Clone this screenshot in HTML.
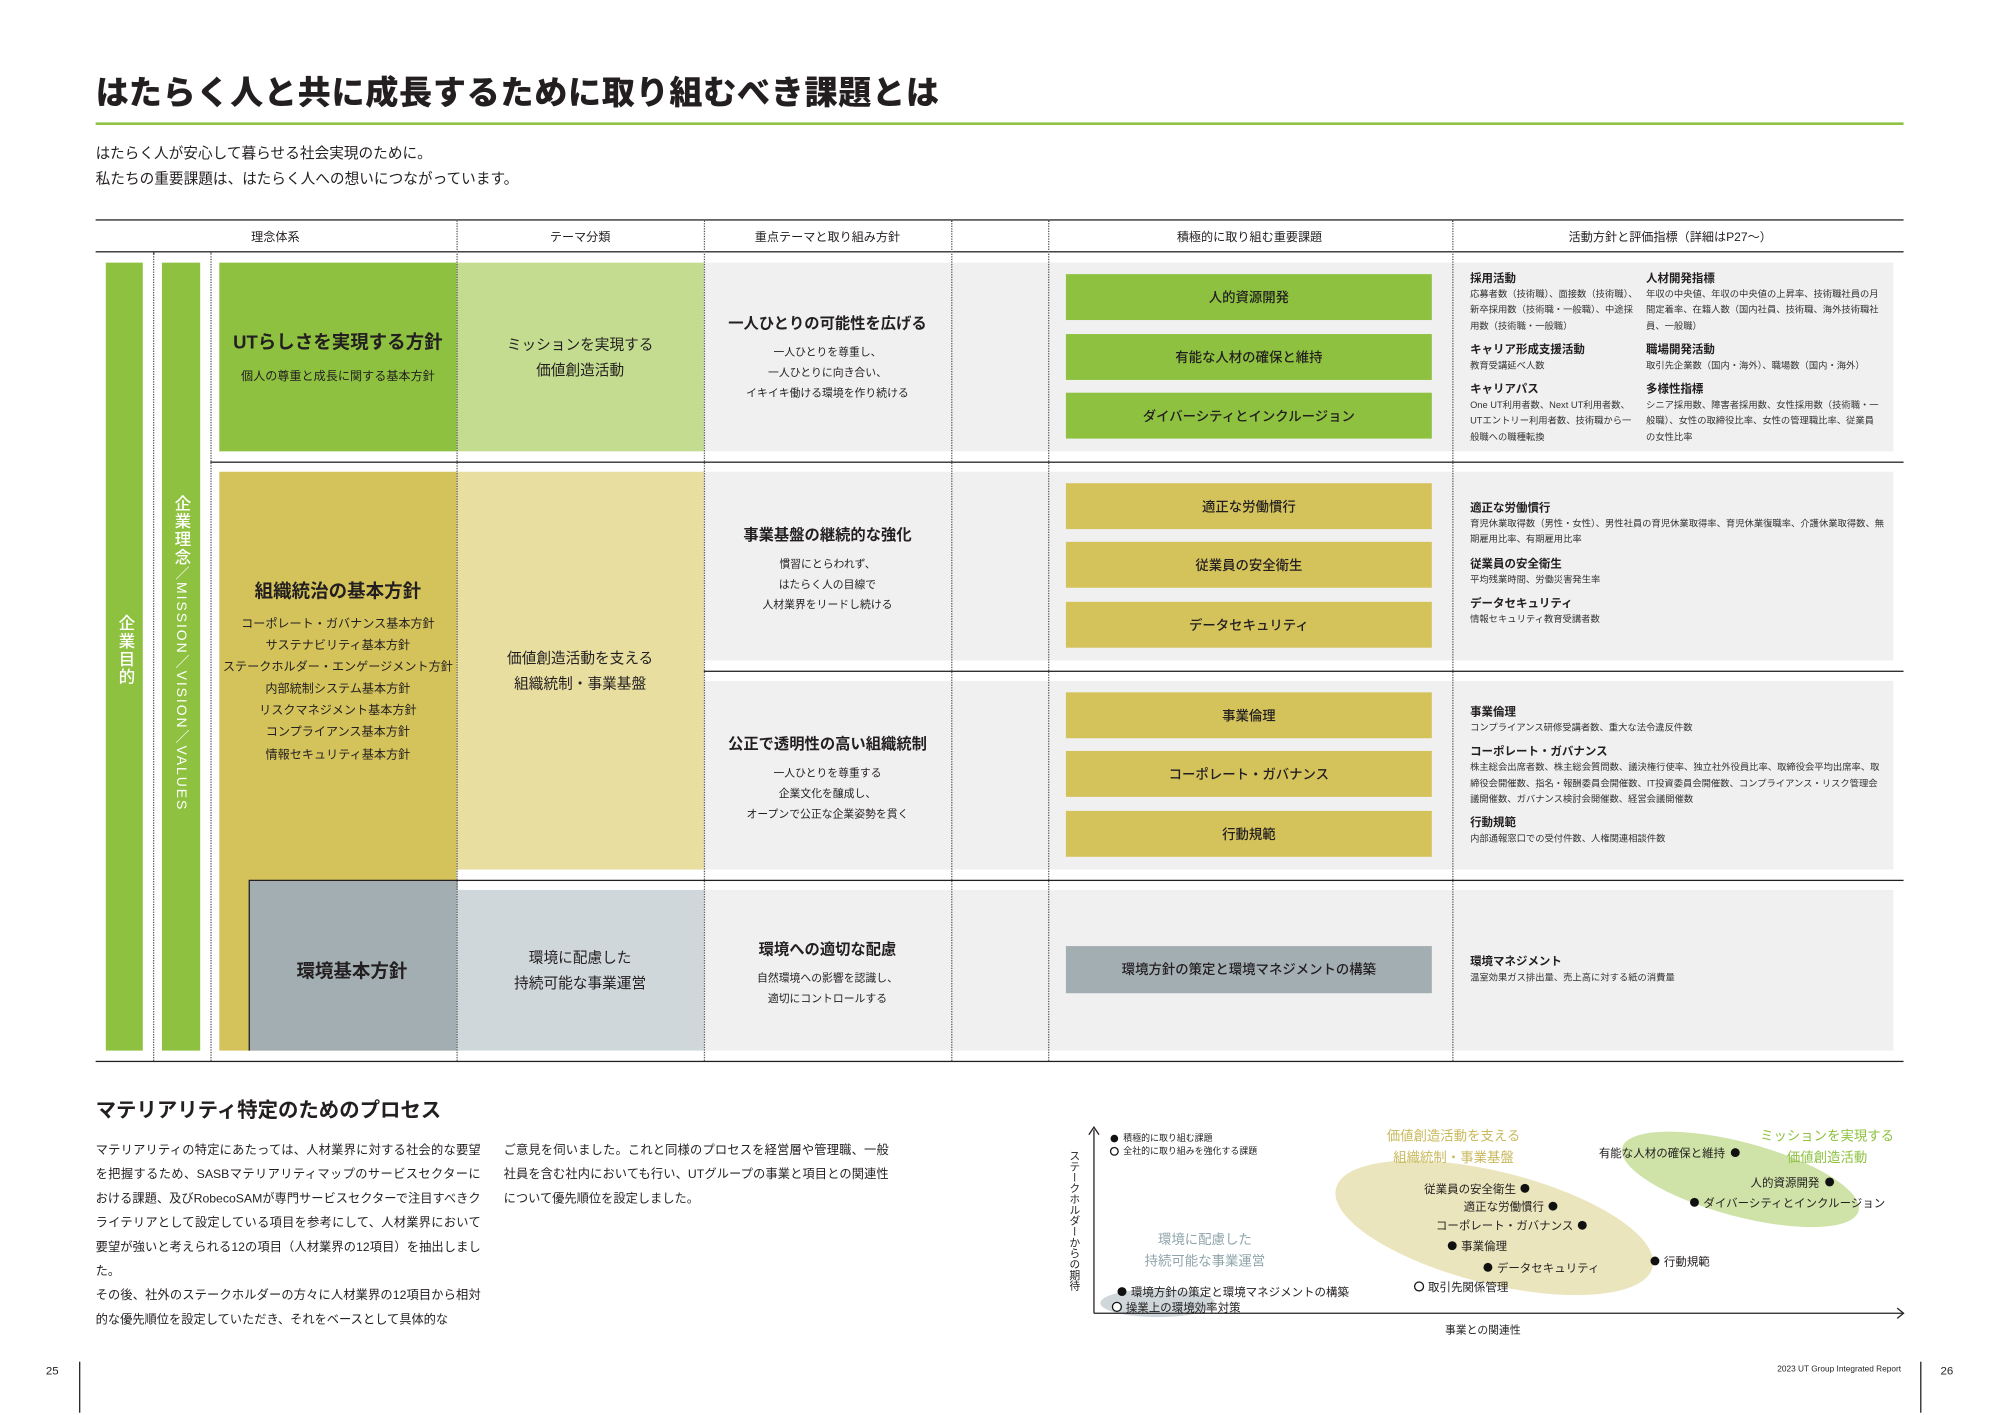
<!DOCTYPE html>
<html><head><meta charset="utf-8">
<style>
html,body{margin:0;padding:0;background:#fff;}
body{width:2000px;height:1415px;overflow:hidden;position:relative;}
#w{position:absolute;left:0;top:0;width:1568px;height:1110px;transform:scale(1.275);transform-origin:0 0;font-family:"Liberation Sans","Noto Sans CJK JP",sans-serif;color:#231f20;}
.a{position:absolute;}
.c{position:absolute;transform:translate(-50%,-50%);white-space:nowrap;text-align:center;}
.l{position:absolute;white-space:nowrap;transform:translateY(-50%);}
.hl{position:absolute;height:0;border-top:1.2px solid #231f20;}
.dv{position:absolute;width:0;border-left:1px dotted #555;}
.box{position:absolute;display:flex;align-items:center;justify-content:center;font-size:10.5px;font-weight:500;}
.rt{position:absolute;font-size:7.3px;line-height:12.3px;color:#333;}
.rt b{display:block;font-size:9px;font-weight:700;color:#231f20;line-height:14px;}
.rt p{margin:0 0 5px 0;}
.dot{position:absolute;width:7px;height:7px;border-radius:50%;background:#111;transform:translate(-50%,-50%);}
.odot{position:absolute;width:6px;height:6px;border-radius:50%;border:1px solid #111;background:#fff;transform:translate(-50%,-50%);}
.ct{position:absolute;font-size:9px;white-space:nowrap;transform:translateY(-50%);}
</style></head><body><div id="w">

<div class="l" style="left:75px;top:71px;font-size:26px;font-weight:900;letter-spacing:0.5px;">はたらく人と共に成長するために取り組むべき課題とは</div>
<div class="a" style="left:75px;top:96px;width:1418px;height:1.5px;background:#8dc13f;"></div>
<div class="l" style="left:75px;top:120px;font-size:11.5px;">はたらく人が安心して暮らせる社会実現のために。</div>
<div class="l" style="left:75px;top:140px;font-size:11.5px;">私たちの重要課題は、はたらく人への想いにつながっています。</div>

<div class="hl" style="left:75px;top:172px;width:1418px;"></div>
<div class="hl" style="left:75px;top:197px;width:1418px;"></div>
<div class="c" style="left:216px;top:185px;font-size:9.5px;">理念体系</div>
<div class="c" style="left:455px;top:185px;font-size:9.5px;">テーマ分類</div>
<div class="c" style="left:649px;top:185px;font-size:9.5px;">重点テーマと取り組み方針</div>
<div class="c" style="left:980px;top:185px;font-size:9.5px;">積極的に取り組む重要課題</div>
<div class="c" style="left:1310px;top:185px;font-size:9.5px;">活動方針と評価指標（詳細はP27〜）</div>

<div class="a" style="left:552px;top:206px;width:933px;height:148px;background:#f0f0f0;"></div>
<div class="a" style="left:552px;top:370px;width:933px;height:148px;background:#f0f0f0;"></div>
<div class="a" style="left:552px;top:534px;width:933px;height:148px;background:#f0f0f0;"></div>
<div class="a" style="left:552px;top:698px;width:933px;height:126px;background:#f0f0f0;"></div>

<div class="a" style="left:83px;top:206px;width:29px;height:618px;background:#8dc13f;"></div>
<div class="a" style="left:127px;top:206px;width:30px;height:618px;background:#8dc13f;"></div>
<div class="a" style="left:88px;top:482px;width:20px;font-size:13px;color:#fff;writing-mode:vertical-rl;font-weight:500;letter-spacing:1px;">企業目的</div>
<div class="a" style="left:132px;top:388px;width:20px;font-size:13px;color:#fff;writing-mode:vertical-rl;font-weight:500;letter-spacing:1px;">企業理念<span style="font-size:11px;letter-spacing:1.5px;">／MISSION／VISION／VALUES</span></div>

<div class="a" style="left:172px;top:206px;width:186px;height:148px;background:#8dc13f;"></div>
<div class="a" style="left:358px;top:206px;width:194px;height:148px;background:#c3dc90;"></div>
<div class="c" style="left:265px;top:268px;font-size:14.5px;font-weight:700;">UTらしさを実現する方針</div>
<div class="c" style="left:265px;top:294px;font-size:9.5px;">個人の尊重と成長に関する基本方針</div>
<div class="c" style="left:455px;top:270px;font-size:11.5px;">ミッションを実現する</div>
<div class="c" style="left:455px;top:290px;font-size:11.5px;">価値創造活動</div>
<div class="c" style="left:649px;top:253px;font-size:12px;font-weight:700;">一人ひとりの可能性を広げる</div>
<div class="c" style="left:649px;top:276px;font-size:8.5px;">一人ひとりを尊重し、</div>
<div class="c" style="left:649px;top:292px;font-size:8.5px;">一人ひとりに向き合い、</div>
<div class="c" style="left:649px;top:308px;font-size:8.5px;">イキイキ働ける環境を作り続ける</div>
<div class="box" style="left:836px;top:215px;width:287px;height:36px;background:#8dc13f;">人的資源開発</div>
<div class="box" style="left:836px;top:262px;width:287px;height:36px;background:#8dc13f;">有能な人材の確保と維持</div>
<div class="box" style="left:836px;top:308px;width:287px;height:36px;background:#8dc13f;">ダイバーシティとインクルージョン</div>
<div class="rt" style="left:1153px;top:211px;width:132px;"><p><b>採用活動</b>応募者数（技術職）、面接数（技術職）、新卒採用数（技術職・一般職）、中途採用数（技術職・一般職）</p><p><b>キャリア形成支援活動</b>教育受講延べ人数</p><p><b>キャリアパス</b>One UT利用者数、Next UT利用者数、UTエントリー利用者数、技術職から一般職への職種転換</p></div>
<div class="rt" style="left:1291px;top:211px;width:186px;"><p><b>人材開発指標</b>年収の中央値、年収の中央値の上昇率、技術職社員の月間定着率、在籍人数（国内社員、技術職、海外技術職社員、一般職）</p><p><b>職場開発活動</b>取引先企業数（国内・海外）、職場数（国内・海外）</p><p><b>多様性指標</b>シニア採用数、障害者採用数、女性採用数（技術職・一般職）、女性の取締役比率、女性の管理職比率、従業員の女性比率</p></div>

<div class="hl" style="left:165px;top:362px;width:1328px;"></div>

<div class="a" style="left:172px;top:370px;width:186px;height:454px;background:#d4c35b;"></div>
<div class="a" style="left:358px;top:370px;width:194px;height:312px;background:#e7de9f;"></div>
<div class="c" style="left:265px;top:463px;font-size:14.5px;font-weight:700;">組織統治の基本方針</div>
<div class="c" style="left:265px;top:488px;font-size:9.5px;">コーポレート・ガバナンス基本方針</div>
<div class="c" style="left:265px;top:505px;font-size:9.5px;">サステナビリティ基本方針</div>
<div class="c" style="left:265px;top:522px;font-size:9.5px;">ステークホルダー・エンゲージメント方針</div>
<div class="c" style="left:265px;top:539px;font-size:9.5px;">内部統制システム基本方針</div>
<div class="c" style="left:265px;top:556px;font-size:9.5px;">リスクマネジメント基本方針</div>
<div class="c" style="left:265px;top:573px;font-size:9.5px;">コンプライアンス基本方針</div>
<div class="c" style="left:265px;top:591px;font-size:9.5px;">情報セキュリティ基本方針</div>
<div class="c" style="left:455px;top:516px;font-size:11.5px;">価値創造活動を支える</div>
<div class="c" style="left:455px;top:536px;font-size:11.5px;">組織統制・事業基盤</div>

<div class="c" style="left:649px;top:419px;font-size:12px;font-weight:700;">事業基盤の継続的な強化</div>
<div class="c" style="left:649px;top:442px;font-size:8.5px;">慣習にとらわれず、</div>
<div class="c" style="left:649px;top:458px;font-size:8.5px;">はたらく人の目線で</div>
<div class="c" style="left:649px;top:474px;font-size:8.5px;">人材業界をリードし続ける</div>
<div class="box" style="left:836px;top:379px;width:287px;height:36px;background:#d4c35b;">適正な労働慣行</div>
<div class="box" style="left:836px;top:425px;width:287px;height:36px;background:#d4c35b;">従業員の安全衛生</div>
<div class="box" style="left:836px;top:472px;width:287px;height:36px;background:#d4c35b;">データセキュリティ</div>
<div class="rt" style="left:1153px;top:391px;width:325px;"><p><b>適正な労働慣行</b>育児休業取得数（男性・女性）、男性社員の育児休業取得率、育児休業復職率、介護休業取得数、無期雇用比率、有期雇用比率</p><p><b>従業員の安全衛生</b>平均残業時間、労働災害発生率</p><p><b>データセキュリティ</b>情報セキュリティ教育受講者数</p></div>

<div class="hl" style="left:552px;top:526px;width:941px;"></div>

<div class="c" style="left:649px;top:583px;font-size:12px;font-weight:700;">公正で透明性の高い組織統制</div>
<div class="c" style="left:649px;top:606px;font-size:8.5px;">一人ひとりを尊重する</div>
<div class="c" style="left:649px;top:622px;font-size:8.5px;">企業文化を醸成し、</div>
<div class="c" style="left:649px;top:638px;font-size:8.5px;">オープンで公正な企業姿勢を貫く</div>
<div class="box" style="left:836px;top:543px;width:287px;height:36px;background:#d4c35b;">事業倫理</div>
<div class="box" style="left:836px;top:589px;width:287px;height:36px;background:#d4c35b;">コーポレート・ガバナンス</div>
<div class="box" style="left:836px;top:636px;width:287px;height:36px;background:#d4c35b;">行動規範</div>
<div class="rt" style="left:1153px;top:551px;width:325px;"><p><b>事業倫理</b>コンプライアンス研修受講者数、重大な法令違反件数</p><p><b>コーポレート・ガバナンス</b>株主総会出席者数、株主総会質問数、議決権行使率、独立社外役員比率、取締役会平均出席率、取締役会開催数、指名・報酬委員会開催数、IT投資委員会開催数、コンプライアンス・リスク管理会議開催数、ガバナンス検討会開催数、経営会議開催数</p><p><b>行動規範</b>内部通報窓口での受付件数、人権関連相談件数</p></div>

<div class="hl" style="left:195px;top:690px;width:1298px;"></div>
<div class="a" style="left:195px;top:691px;width:163px;height:133px;background:#a3aeb3;border-left:1.2px solid #231f20;"></div>
<div class="a" style="left:358px;top:698px;width:194px;height:126px;background:#cfd7da;"></div>
<div class="c" style="left:276px;top:761px;font-size:14.5px;font-weight:700;">環境基本方針</div>
<div class="c" style="left:455px;top:751px;font-size:11.5px;">環境に配慮した</div>
<div class="c" style="left:455px;top:771px;font-size:11.5px;">持続可能な事業運営</div>
<div class="c" style="left:649px;top:744px;font-size:12px;font-weight:700;">環境への適切な配慮</div>
<div class="c" style="left:649px;top:767px;font-size:8.5px;">自然環境への影響を認識し、</div>
<div class="c" style="left:649px;top:783px;font-size:8.5px;">適切にコントロールする</div>
<div class="box" style="left:836px;top:742px;width:287px;height:37px;background:#a3aeb3;">環境方針の策定と環境マネジメントの構築</div>
<div class="rt" style="left:1153px;top:747px;width:325px;"><p><b>環境マネジメント</b>温室効果ガス排出量、売上高に対する紙の消費量</p></div>

<div class="hl" style="left:75px;top:832px;width:1418px;"></div>

<div class="dv" style="left:120px;top:198px;height:634px;"></div>
<div class="dv" style="left:165px;top:198px;height:634px;"></div>
<div class="dv" style="left:358px;top:172px;height:660px;"></div>
<div class="dv" style="left:552px;top:172px;height:660px;"></div>
<div class="dv" style="left:746px;top:172px;height:660px;"></div>
<div class="dv" style="left:822px;top:172px;height:660px;"></div>
<div class="dv" style="left:1139px;top:172px;height:660px;"></div>

<div class="l" style="left:75px;top:869px;font-size:16px;font-weight:700;">マテリアリティ特定のためのプロセス</div>
<div class="a" style="left:75px;top:893px;width:302px;font-size:9.6px;line-height:19px;text-align:justify;">マテリアリティの特定にあたっては、人材業界に対する社会的な要望を把握するため、SASBマテリアリティマップのサービスセクターにおける課題、及びRobecoSAMが専門サービスセクターで注目すべきクライテリアとして設定している項目を参考にして、人材業界において要望が強いと考えられる12の項目（人材業界の12項目）を抽出しました。<br>その後、社外のステークホルダーの方々に人材業界の12項目から相対的な優先順位を設定していただき、それをベースとして具体的な</div>
<div class="a" style="left:395px;top:893px;width:302px;font-size:9.6px;line-height:19px;text-align:justify;">ご意見を伺いました。これと同様のプロセスを経営層や管理職、一般社員を含む社内においても行い、UTグループの事業と項目との関連性について優先順位を設定しました。</div>

<svg class="a" style="left:0;top:0;" width="1568" height="1110">
<ellipse cx="1172" cy="963" rx="128" ry="44" transform="rotate(14 1172 963)" fill="#ebe5bd"/>
<ellipse cx="1365" cy="925" rx="96" ry="29" transform="rotate(15 1365 925)" fill="#cfe3a8"/>
<ellipse cx="908" cy="1022" rx="45" ry="11" fill="#cfd7da"/>
<line x1="858" y1="886" x2="858" y2="1030" stroke="#231f20" stroke-width="1"/>
<line x1="858" y1="1030" x2="1492" y2="1030" stroke="#231f20" stroke-width="1"/>
<polyline points="854,890 858,884 862,890" fill="none" stroke="#231f20"/>
<polyline points="1488,1026 1493,1030 1488,1034" fill="none" stroke="#231f20"/>
</svg>
<div class="a" style="left:837px;top:902px;font-size:8.5px;writing-mode:vertical-rl;">ステークホルダーからの期待</div>
<div class="c" style="left:1163px;top:1043px;font-size:8.5px;">事業との関連性</div>
<div class="dot" style="left:874px;top:893px;width:6px;height:6px;"></div>
<div class="ct" style="left:881px;top:893px;font-size:7px;">積極的に取り組む課題</div>
<div class="odot" style="left:874px;top:903px;width:5px;height:5px;"></div>
<div class="ct" style="left:881px;top:903px;font-size:7px;">全社的に取り組みを強化する課題</div>

<div class="c" style="left:1140px;top:891px;font-size:10.5px;color:#c9b95c;">価値創造活動を支える</div>
<div class="c" style="left:1140px;top:908px;font-size:10.5px;color:#c9b95c;">組織統制・事業基盤</div>
<div class="c" style="left:1433px;top:891px;font-size:10.5px;color:#8dc13f;">ミッションを実現する</div>
<div class="c" style="left:1433px;top:908px;font-size:10.5px;color:#8dc13f;">価値創造活動</div>
<div class="c" style="left:945px;top:972px;font-size:10.5px;color:#8fa4ab;">環境に配慮した</div>
<div class="c" style="left:945px;top:989px;font-size:10.5px;color:#8fa4ab;">持続可能な事業運営</div>

<div class="ct" style="right:215px;top:904px;">有能な人材の確保と維持</div><div class="dot" style="left:1361px;top:904px;"></div>
<div class="ct" style="right:141px;top:927px;">人的資源開発</div><div class="dot" style="left:1435px;top:927px;"></div>
<div class="dot" style="left:1329px;top:943px;"></div><div class="ct" style="left:1336px;top:943px;">ダイバーシティとインクルージョン</div>
<div class="ct" style="right:379px;top:932px;">従業員の安全衛生</div><div class="dot" style="left:1196px;top:932px;"></div>
<div class="ct" style="right:357px;top:946px;">適正な労働慣行</div><div class="dot" style="left:1218px;top:946px;"></div>
<div class="ct" style="right:334px;top:961px;">コーポレート・ガバナンス</div><div class="dot" style="left:1241px;top:961px;"></div>
<div class="dot" style="left:1139px;top:977px;"></div><div class="ct" style="left:1146px;top:977px;">事業倫理</div>
<div class="dot" style="left:1167px;top:994px;"></div><div class="ct" style="left:1174px;top:994px;">データセキュリティ</div>
<div class="dot" style="left:1298px;top:989px;"></div><div class="ct" style="left:1305px;top:989px;">行動規範</div>
<div class="odot" style="left:1113px;top:1009px;"></div><div class="ct" style="left:1120px;top:1009px;">取引先関係管理</div>
<div class="dot" style="left:880px;top:1013px;"></div><div class="ct" style="left:887px;top:1013px;">環境方針の策定と環境マネジメントの構築</div>
<div class="odot" style="left:876px;top:1025px;"></div><div class="ct" style="left:883px;top:1025px;">操業上の環境効率対策</div>

<div class="c" style="left:41px;top:1075px;font-size:9px;">25</div>
<div class="a" style="left:62px;top:1068px;width:1px;height:40px;background:#231f20;"></div>
<div class="c" style="left:1527px;top:1075px;font-size:9px;">26</div>
<div class="a" style="left:1506px;top:1068px;width:1px;height:40px;background:#231f20;"></div>
<div class="ct" style="right:77px;top:1074px;font-size:6.5px;">2023 UT Group Integrated Report</div>
</div></body></html>
